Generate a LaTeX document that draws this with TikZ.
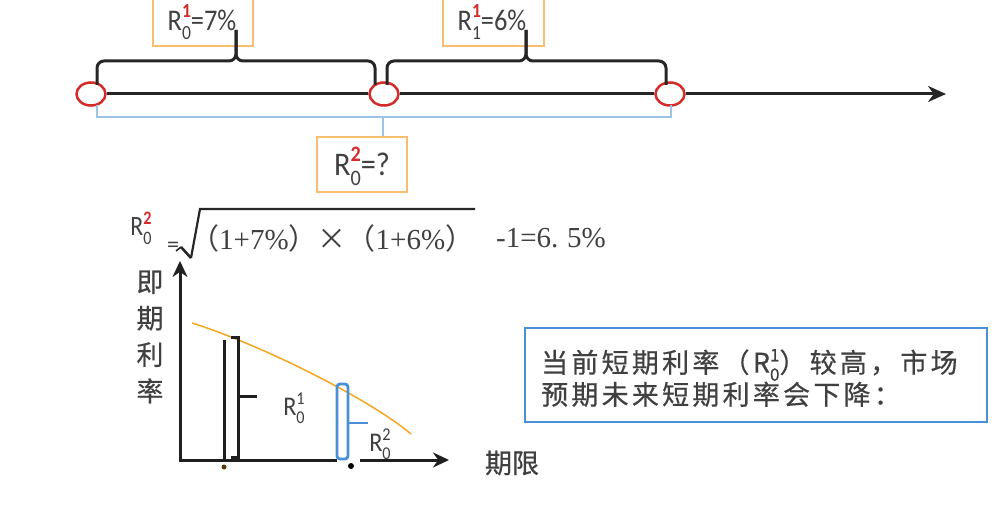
\documentclass[tikz,border=0pt]{standalone}
\usepackage{graphicx}
\usepackage{fontspec}
\setmainfont{Carlito}
\newfontfamily\cjk[FakeBold=0.5]{Noto Sans CJK SC}
\newfontfamily\cjkp{Noto Sans CJK SC}
\newfontfamily\cjkw[LetterSpace=12,FakeBold=0.5]{Noto Sans CJK SC}
\newfontfamily\tms{Liberation Serif}
\usetikzlibrary{arrows.meta,shapes.geometric}
\definecolor{txt}{HTML}{404040}
\definecolor{boxor}{HTML}{F6BE6E}
\definecolor{redc}{HTML}{D42A2A}
\definecolor{lblue}{HTML}{9DC3E6}
\definecolor{mblue}{HTML}{4A90D9}
\definecolor{curveor}{HTML}{F5A623}
\definecolor{dotc}{HTML}{5A3A10}
\newcommand\fsz[1]{\fontsize{#1}{#1}\selectfont}
\newcommand\redb[1]{\textcolor{redc}{\bfseries #1}}
\newcommand\plainf[1]{#1}
\newcommand\Rlab[5]{{\fsz{#1}R\rlap{\raisebox{-0.3em}{\fsz{#2}#3}}\raisebox{0.42em}{\fsz{#2}#5{#4}}}}
\begin{document}
\begin{tikzpicture}[x=1pt,y=-1pt,
  obox/.style={draw=boxor, line width=2pt, inner sep=0pt},
  redov/.style={ellipse, draw=redc, line width=2.5pt, fill=white, minimum width=29pt, minimum height=23pt, inner sep=0pt},
  tline/.style={draw=black!85, line width=3pt},
  brc/.style={draw=black!85, line width=3pt, rounded corners=7pt},
  lbl/.style={draw=lblue, line width=1.8pt},
  axisl/.style={draw=black!88, line width=3pt},
  labt/.style={text=txt, inner sep=0pt},
  bluebox/.style={draw=mblue, line width=2.5pt, inner sep=0pt}]
\fill[white] (0,0) rectangle (996,518);
\useasboundingbox (0,0) rectangle (996,518);

% top boxes
\node[obox, minimum width=100pt, minimum height=54pt] (b1) at (203,19) {};
\node[labt, font=\fsz{30}] (t1) at (202,22) {\scalebox{0.88}[1]{\Rlab{30}{20}{0}{1}{\redb}=7\%}};
\node[obox, minimum width=101pt, minimum height=54pt] (b2) at (493.5,19) {};
\node[labt, font=\fsz{30}] (t2) at (492,22) {\scalebox{0.88}[1]{\Rlab{30}{20}{1}{1}{\redb}=6\%}};
\node[obox, minimum width=90pt, minimum height=55pt] (b3) at (362,164.5) {};
\node[labt, font=\fsz{33}] (t3) at (362,166) {\scalebox{0.92}[1]{\Rlab{33}{22}{0}{2}{\redb}=?}};

% timeline
\node[redov] (e1) at (91,94) {};
\node[redov] (e2) at (384,94) {};
\node[redov] (e3) at (670,94) {};
\coordinate (tend) at (946,94);
\draw[tline] (e1.east) -- (e2.west);
\draw[tline] (e2.east) -- (e3.west);
\draw[tline, -{Stealth[length=18pt,width=16pt]}] (e3.east) -- (tend);

% braces
\coordinate (p1a) at (97,85); \coordinate (p1b) at (97,61);
\coordinate (p1m) at (236,61); \coordinate (p1t) at (236,30);
\coordinate (p1c) at (375,61); \coordinate (p1d) at (375,85);
\draw[brc] (p1a) -- (p1b) -- (p1m) -- (p1t);
\draw[brc] (p1d) -- (p1c) -- (p1m) -- (p1t);
\coordinate (p2a) at (387,85); \coordinate (p2b) at (387,61);
\coordinate (p2m) at (526,61); \coordinate (p2t) at (526,30);
\coordinate (p2c) at (666,61); \coordinate (p2d) at (666,85);
\draw[brc] (p2a) -- (p2b) -- (p2m) -- (p2t);
\draw[brc] (p2d) -- (p2c) -- (p2m) -- (p2t);

% blue bracket
\coordinate (q1) at (97,105); \coordinate (q2) at (97,117);
\coordinate (q3) at (671,117); \coordinate (q4) at (671,105);
\coordinate (qm) at (383,117);
\draw[lbl] (q1) -- (q2) -- (q3) -- (q4);
\draw[lbl] (qm) -- (qm |- b3.north);

% formula
\node[labt, font=\fsz{28}] (fr) at (141,228) {\scalebox{0.85}[1]{\Rlab{28}{19}{0}{2}{\redb}}};
\node[labt, font=\fsz{24}] (feq) at (173,247) {=};
\coordinate (s0) at (176,251); \coordinate (s1) at (181,247);
\coordinate (s2) at (191,258); \coordinate (s3) at (200,209);
\coordinate (s4) at (475,209);
\draw[black!85, line width=2.6pt, line join=miter] (s1) -- (s2);
\draw[black!85, line width=1.6pt] (s0) -- (s1);
\draw[black!85, line width=2.2pt] (s2) -- (s3) -- (s4);
\node[labt, anchor=west, font=\fsz{29}] (fin) at (190,238) {\cjkp（\tms 1+7\%\cjkp）×（\tms 1+6\%\cjkp）};
\node[labt, anchor=west, font=\fsz{29}\tms] (fout) at (496,238) {-1=6.\hspace{0.3em}5\%};

% graph
\coordinate (O) at (180,460); \coordinate (ytop) at (180,261);
\coordinate (xa) at (337,460); \coordinate (xb) at (360,460); \coordinate (xend) at (449,460);
\draw[axisl, -{Stealth[length=16pt,width=15pt]}] (O) -- (ytop);
\draw[axisl] ([xshift=-1.5pt]O) -- (xa);
\draw[axisl, -{Stealth[length=16pt,width=15pt]}] (xb) -- (xend);
\coordinate (c0) at (192,323); \coordinate (c1) at (262,345);
\coordinate (c2) at (371,400); \coordinate (c3) at (411,434);
\draw[curveor, line width=1.5pt] (c0) .. controls (c1) and (c2) .. (c3);

\coordinate (v1) at (224,340); \coordinate (v2) at (224,460);
\draw[axisl] (v1) -- (v2);
\coordinate (k1) at (231,338); \coordinate (k2) at (238,338);
\coordinate (k3) at (238,457); \coordinate (k4) at (231,457);
\coordinate (k5) at (238,397); \coordinate (k6) at (257,397);
\draw[axisl] (k1) -- (k2) -- (k3) -- (k4);
\draw[axisl] (k5) -- (k6);
\coordinate (m1) at (337,384); \coordinate (m2) at (348,459);
\coordinate (m3) at (348,423); \coordinate (m4) at (368,423);
\draw[mblue, line width=2.8pt, rounded corners=3pt] (m1) rectangle (m2);
\draw[mblue, line width=2.8pt] (m3) -- (m4);
\node[labt, font=\fsz{27}] (g1) at (294,408) {\scalebox{0.9}[1]{\Rlab{27}{18}{0}{1}{\plainf}}};
\node[labt, font=\fsz{27}] (g2) at (380,444) {\scalebox{0.9}[1]{\Rlab{27}{18}{0}{2}{\plainf}}};
\node[circle, fill=dotc, inner sep=0pt, minimum size=5pt] (d1) at (224,467) {};
\node[circle, fill=black, inner sep=0pt, minimum size=6pt] (d2) at (351,466) {};
\node[labt, font=\fsz{27}\cjk] (xl) at (512,463) {期限};
\node[labt, font=\fsz{27}\cjk, align=center] (yl) at (150,337) {即\\[9.5pt]期\\[9.5pt]利\\[9.5pt]率};

% right box
\node[bluebox, minimum width=462pt, minimum height=94pt] (rb) at (756,375) {};
\node[labt, anchor=west, align=left, font=\fontsize{27}{32}\cjkw] (rt) at (541,378)
  {当前短期利率（\Rlab{27}{17}{0}{1}{\plainf}）较高，市场\\预期未来短期利率会下降：};
\end{tikzpicture}
\end{document}
